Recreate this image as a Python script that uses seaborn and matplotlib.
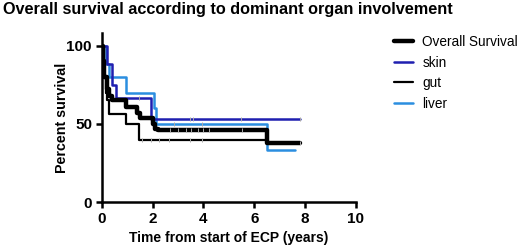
import pandas
import seaborn
import matplotlib
matplotlib.use("Agg")
import matplotlib.pyplot as pyplot

seaborn.set(style="ticks")
pyplot.rcParams["font.family"] = ["Liberation Sans", "DejaVu Sans"]
pyplot.rcParams.update({"text.color": "black", "axes.labelcolor": "black",
                        "axes.edgecolor": "black", "xtick.color": "black",
                        "ytick.color": "black"})

# Kaplan-Meier steps (time in years, percent survival after the step)
overall_t = [0, 0.05, 0.1, 0.2, 0.3, 0.4, 0.97, 1.4, 1.5, 2.0, 2.1, 2.2, 6.5, 7.8]
overall_s = [100, 90, 80, 72, 68, 65, 61, 57, 54, 50, 47, 45.8, 37.5, 37.5]
skin_t = [0, 0.2, 0.4, 0.55, 1.94, 7.8]
skin_s = [100, 88, 75, 66.7, 53.3, 53.3]
gut_t = [0, 0.1, 0.15, 0.2, 0.3, 0.97, 1.45, 6.5, 7.8]
gut_s = [100, 80, 70, 65, 56, 50, 40, 37.5, 37.5]
liver_t = [0, 0.15, 0.3, 0.97, 2.06, 2.15, 6.5, 7.6]
liver_s = [100, 88, 80, 70, 60, 50, 33.3, 33.3]

# censored observations
overall_ct = [2.7, 3.0, 3.3, 3.5, 3.8, 4.0, 4.2, 5.5, 7.8]
overall_cs = [45.8] * 8 + [37.5]
skin_ct = [3.48, 3.6, 5.48, 7.8]
skin_cs = [53.3] * 4
gut_ct = [1.59, 1.94, 2.26, 2.65, 3.48, 3.96]
gut_cs = [40] * 6
liver_ct = [1.45, 2.84, 3.96]
liver_cs = [66.7, 50, 50]

names = ["Overall Survival", "skin", "gut", "liver"]
colors = ["black", "#1f1fb0", "black", "#2b8ee0"]
widths = [3.2, 1.8, 1.6, 1.8]
curves = [(overall_t, overall_s), (skin_t, skin_s), (gut_t, gut_s), (liver_t, liver_s)]
censors = [(overall_ct, overall_cs), (skin_ct, skin_cs), (gut_ct, gut_cs), (liver_ct, liver_cs)]

fig = pyplot.figure(figsize=(5.2, 2.49), dpi=100)
ax = fig.add_axes([0.1956, 0.1876, 0.489, 0.68])

order = [3, 1, 2, 0]
for i in order:
    t, s = curves[i]
    df = pandas.DataFrame({"t": t, "s": s})
    seaborn.lineplot(data=df, x="t", y="s", drawstyle="steps-post", color=colors[i],
                     linewidth=widths[i], estimator=None, ax=ax, label=names[i],
                     zorder=3 if i == 0 else 2)
    ct, cs = censors[i]
    cdf = pandas.DataFrame({"t": ct, "s": cs})
    seaborn.scatterplot(data=cdf, x="t", y="s", marker="|", s=9, color="#aaaaaa",
                        linewidth=0.7, ax=ax, zorder=4)

ax.set_xlim(0, 10)
ax.set_ylim(0, 108)
ax.set_xticks([0, 2, 4, 6, 8, 10])
ax.set_yticks([0, 50, 100])
ax.spines["top"].set_visible(False)
ax.spines["right"].set_visible(False)
for sp in ["left", "bottom"]:
    ax.spines[sp].set_linewidth(1.8)
ax.tick_params(width=1.8, length=4, labelsize=11, pad=3)
for lab in ax.get_xticklabels() + ax.get_yticklabels():
    lab.set_fontweight("bold")
ax.set_xlabel("Time from start of ECP (years)", fontsize=10, fontweight="bold", va="center")
ax.set_ylabel("Percent survival", fontsize=10.3, fontweight="bold", va="center")
ax.xaxis.set_label_coords(0.5, -0.211)
ax.yaxis.set_label_coords(-0.158, 0.5)

h, l = ax.get_legend_handles_labels()
idx = [l.index(n) for n in names]
ax.legend([h[j] for j in idx], [l[j] for j in idx], loc="upper left",
          bbox_to_anchor=(1.10, 1.06), frameon=False, fontsize=9.8,
          handlelength=1.4, labelspacing=0.48, handletextpad=0.7)

fig.text(0.005, 0.99, "Overall survival according to dominant organ involvement",
         fontsize=11.7, fontweight="bold", va="top", ha="left")

fig.savefig("out.png", dpi=100)
